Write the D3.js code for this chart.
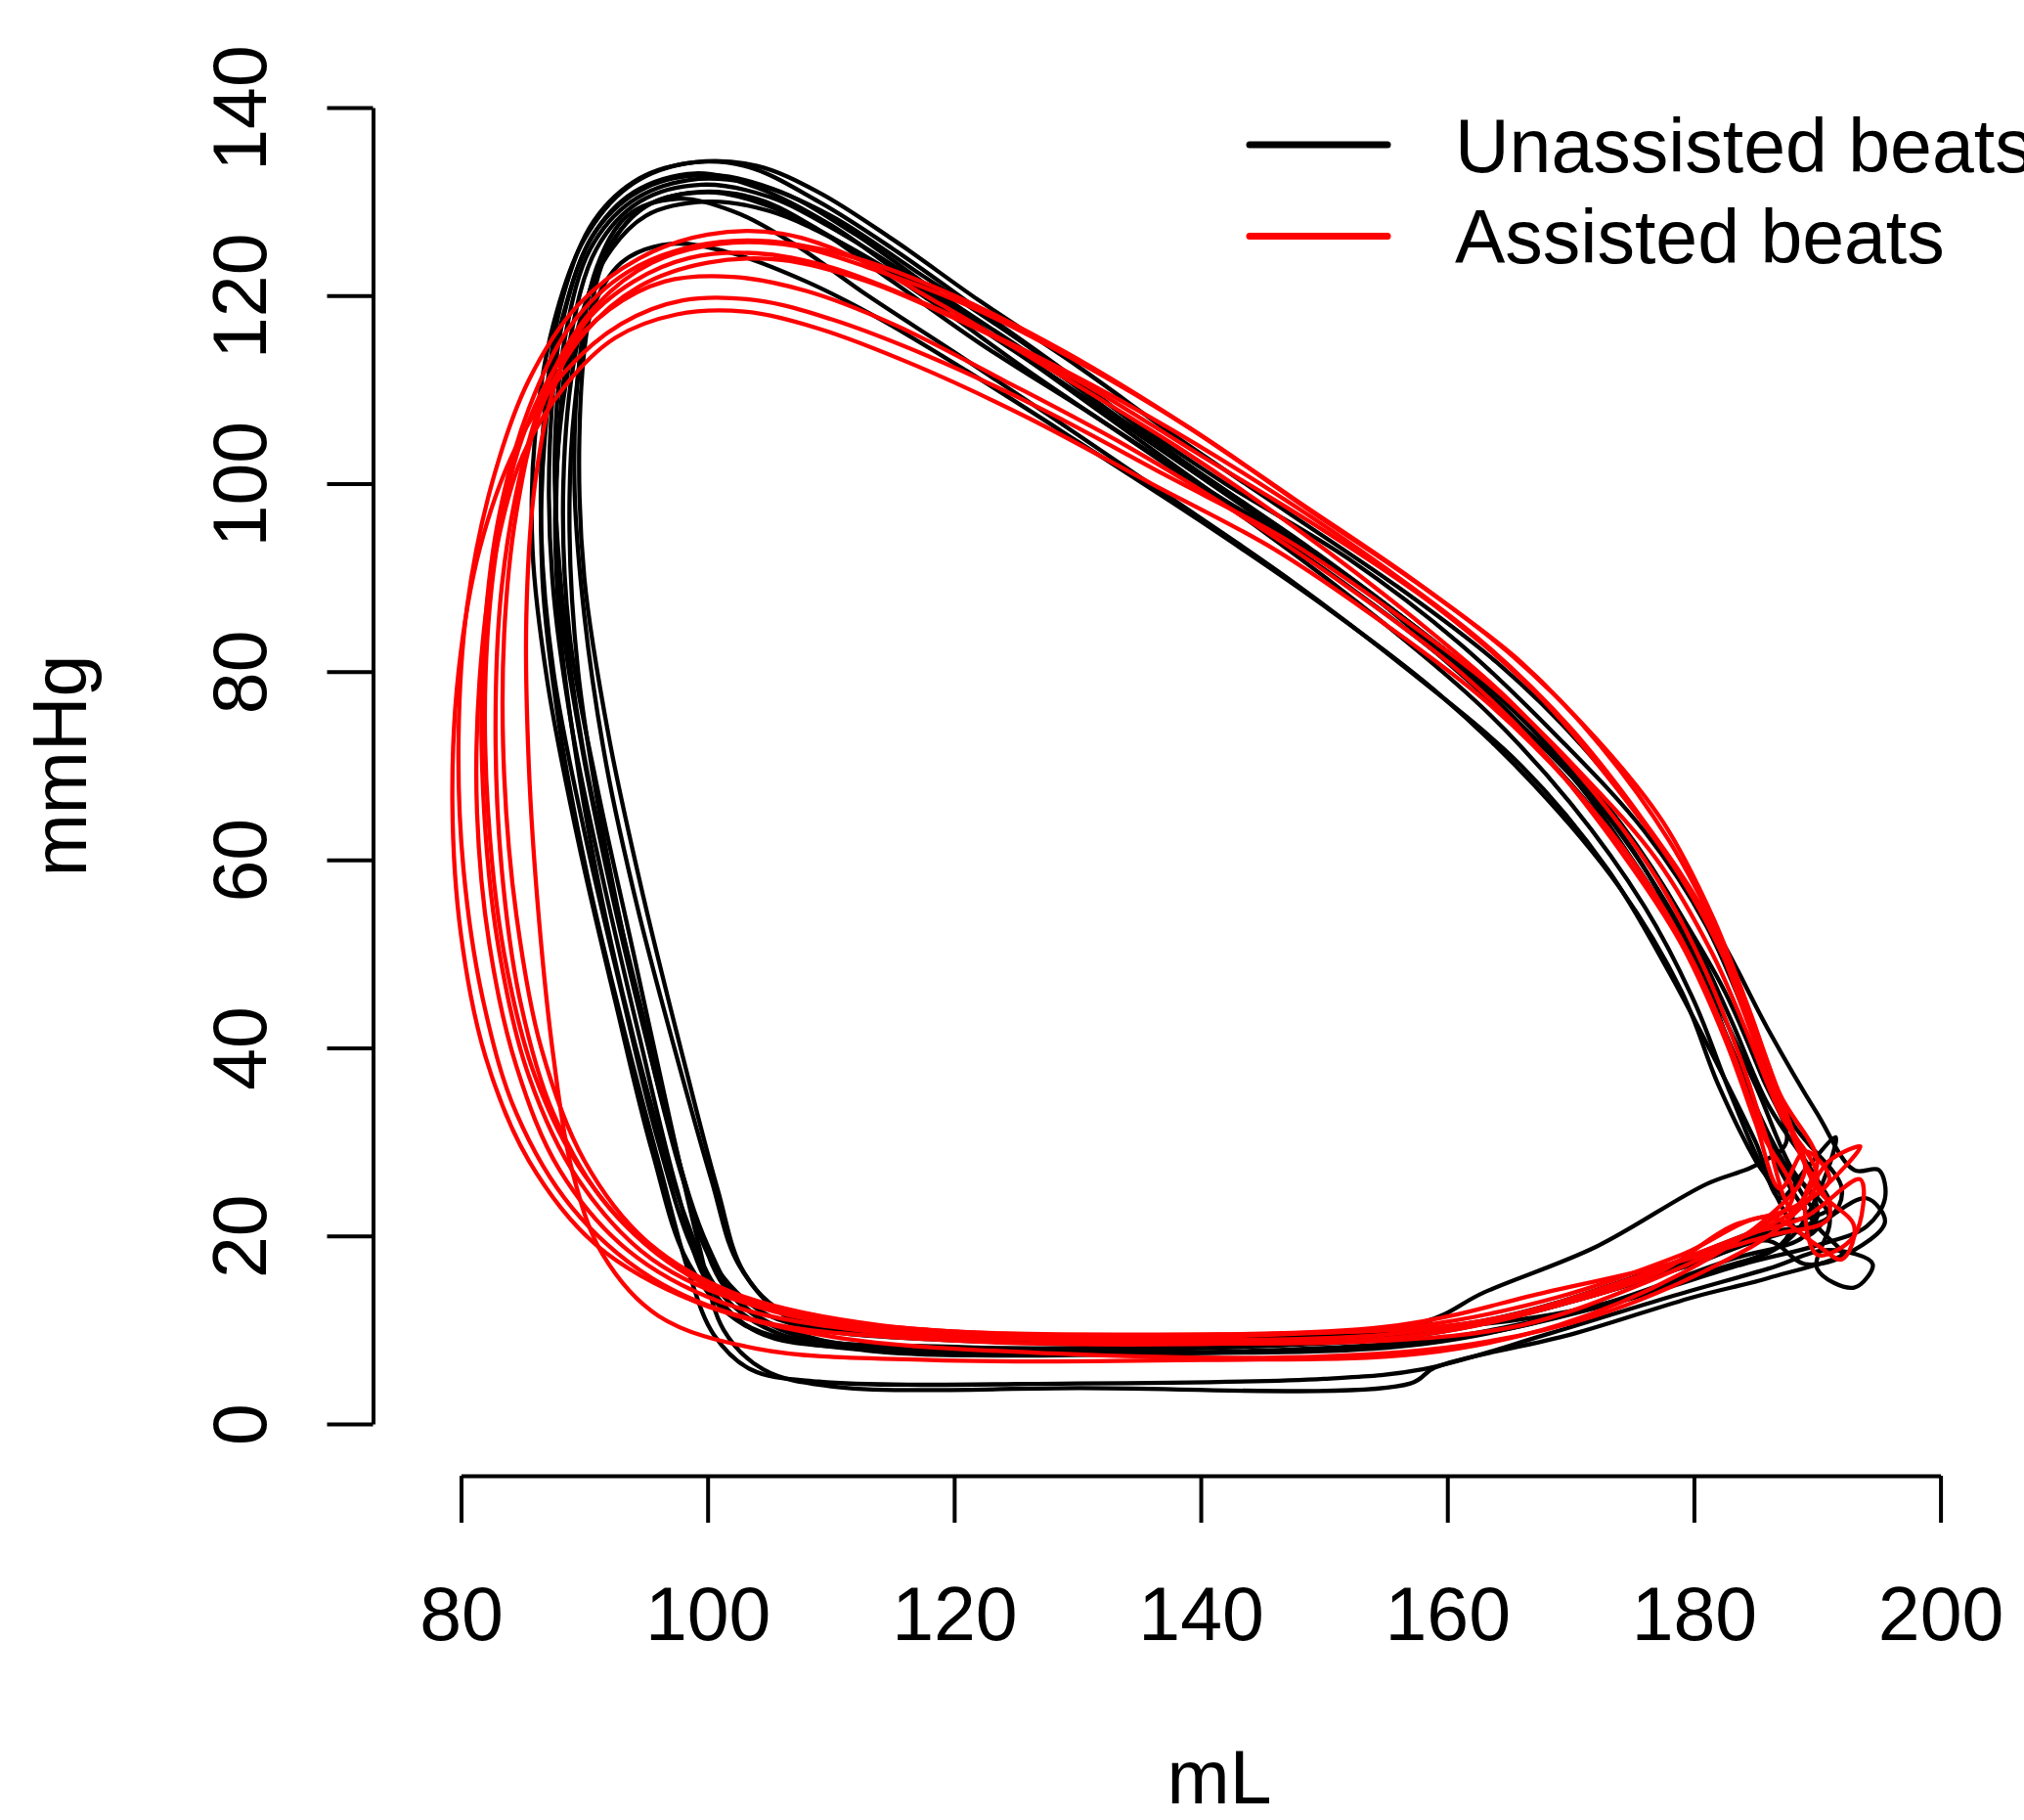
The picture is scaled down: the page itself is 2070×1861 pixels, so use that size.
<!DOCTYPE html>
<html>
<head>
<meta charset="utf-8">
<script src="https://cdn.jsdelivr.net/npm/d3@7"></script>
<style>
  html, body { margin: 0; padding: 0; background: #fff; }
  svg { display: block; }
  text { font-family: "Liberation Sans", Arial, sans-serif; fill: #000; }
</style>
</head>
<body>
<svg id="chart" width="2070" height="1861"></svg>
<script>
// ---------- data (volume mL, pressure mmHg) ----------
const xTicks = [80, 100, 120, 140, 160, 180, 200];
const yTicks = [0, 20, 40, 60, 80, 100, 120, 140];
const xLabel = "mL";
const yLabel = "mmHg";
const legendLabels = ["Unassisted beats", "Assisted beats"];
const seriesColors = ["#000000", "#ff0000"];

// Unassisted beats (black)
const u1 = [[190,23],[186,30],[183,40],[179,52],[174,63],[167,73],[159,83],[149,93],[139,102],[130,111],[122,118.5],[115,125],[109,130],[103,133.8],[98,134],[93.5,131.5],[90,126],[87.5,117],[86,105],[85.8,93],[87,79],[89.5,62],[92.5,45],[95.5,29],[98.5,17],[103,10.5],[113,7.8],[135,7.5],[158,8.5],[172,12.5],[183,17.5],[189,20]];
const u2 = [[187.5,30],[185.5,37],[182.5,46],[179,54],[175,62],[169,71],[162,80],[153,89],[143,98],[133,107],[124,115],[117,121.5],[111,126.5],[105,130.5],[99.5,131.8],[94.5,130],[91,125],[88.8,115],[87.8,102],[88,88],[89.8,72],[92.3,56],[95.2,40],[98,26],[100.5,17],[105,11.5],[115,9.5],[140,9.2],[158,10.8],[163,14],[172,18.8],[181,25.5],[185,27.5]];
const u3 = [[189,20],[186,26],[183,35],[180,45],[176,55],[170,66],[163,76],[155,85],[145,95],[135,104],[126,112],[118,119.5],[111,125.5],[105,129.5],[100,131],[95,129.5],[91.5,124],[89.3,114],[88.3,100],[88.8,84],[91,68],[94,50],[97,32],[99.3,19],[101.3,10],[104.5,5.8],[110,4],[130,3.8],[157,4.3],[159,6],[170,9.5],[180,13.5],[186,15.5],[193,18.5],[195.5,21.5],[194,24],[191,22]];
const u4 = [[192,25],[188,32],[185,41],[181,53],[176,63],[169,73],[161,83],[152,92],[142,100],[133,108],[125,115.5],[117,122.5],[110,128.5],[104,131.8],[98.5,132.3],[93.8,130],[90.5,125],[88.5,116],[87.6,103],[88.2,88],[90,71],[92.8,54],[96,37],[99,22],[101.7,14],[107,9.5],[120,8.2],[145,8.3],[162,10.5],[175,15],[185,20],[191,22]];
const u5 = [[190,26],[186,34],[183,43],[179,54],[174,64],[168,73],[160,82],[151,91],[141,99],[131,107.5],[122,115],[115,121.5],[109,127],[104,130.3],[99,131],[95,129.5],[92,125],[90.3,117],[89.6,105],[90,90],[92,73],[94.8,56],[98,39],[100.8,25],[103,16],[107,11],[118,9],[145,9.2],[163,11],[176,16],[186,21],[191,23]];
const u6 = [[188,22],[185,28],[182,36],[179,46],[174,57],[167,68],[159,78],[150,87],[140,96],[130,104.5],[121,112],[114,117.5],[108,121.5],[102,124.5],[97,125.5],[93,123.5],[90.5,118],[89.2,108],[88.8,95],[89.5,80],[91.5,63],[94,47],[97,31],[100,19],[103,12.5],[109,9],[125,7.8],[145,7.8],[160,9.2],[172,12.5],[182,16.5],[187,19]];
const u7 = [[189,24],[186,31],[183,40],[180,50],[175,61],[169,71],[161,81],[152,90],[142,99],[133,107],[125,114],[118,120],[111,125.5],[105,129],[100,130],[95,128.5],[91.5,123.5],[89,114],[87.7,100],[88,85],[89.7,68],[92.2,51],[95.2,35],[98.2,22],[101,14],[106,9.5],[118,8.2],[142,8.5],[160,10],[174,14.5],[184,19],[190,22]];
const u8 = [[191,22],[188,27],[185,36],[181,47],[176,58],[170,69],[162,79],[153,89],[144,97.5],[135,105.5],[127,113],[119,120],[112,126.5],[106,131],[100.5,132.8],[95,131.5],[91,127],[88.3,118],[86.8,105],[86.6,90],[88,74],[90.3,58],[93.2,42],[96.2,27],[98.5,16],[100.5,9.5],[103.5,5.8],[109,4.5],[130,4.3],[150,4.8],[158,5.8],[168,9.5],[178,13.5],[186,16.5],[191,18.5],[194.5,17],[193,14.5],[190,16.5]];
const u9 = [[193,27],[190,33],[186,42],[182,52],[177,62],[171,72],[164,81],[156,89],[147,97],[138,105],[130,112.5],[122,119.5],[115,126],[109,131],[104,133.8],[99,134.2],[94.5,132.5],[90.8,128],[88.3,120],[86.8,108],[86.5,95],[87.5,80],[90,63],[93,46],[96,30],[99,18],[102.5,11],[112,8],[138,7.5],[160,9],[174,13],[184,17],[190,19],[194,21],[195.5,24],[195,27]];
const u10 = [[187,24],[185,30],[182,38],[178,48],[173,59],[166,70],[157,80],[147,90],[137,99],[128,107],[120,114],[113,120],[107,125.5],[102,129],[97.5,130.3],[93.5,128.5],[91,123],[89.6,113],[89.2,100],[90,86],[91.8,70],[94.3,55],[97.3,40],[100.3,26],[102.5,17],[106,12],[114,9.6],[135,9],[158,10],[170,12],[181,16],[188,20],[191.5,30.5],[189,27]];
const u11 = [[190,21],[187,27],[184,37],[180,49],[175,60],[168,71],[160,81],[151,90],[141,99],[132,107.5],[124,115],[116,122],[110,127.5],[104,131.5],[99,133],[94,131],[90.5,126],[88.2,117],[87.2,104],[87.4,90],[89,74],[91.5,58],[94.5,41],[97.5,25],[100,15],[104,9.8],[113,8],[138,8],[158,9.5],[170,13],[180,17],[186,19.5],[189,17],[192,18]];
const unassistedBeats = [u1, u2, u3, u4, u5, u6, u7, u8, u9, u10, u11];

// Assisted beats (red)
const a1 = [[188,23],[186,30],[184,38],[181,48],[177,58],[172,67],[165,77],[157,86],[148,95],[138,104],[128,112],[119,119],[112,124],[106,126.6],[100,126.5],[94.5,124],[89.5,119],[85.5,111],[82.5,100],[80.5,87],[79.8,73],[80.2,59],[81.8,45],[84.5,33],[89,23],[95.5,15.5],[104,11],[118,9],[140,8.5],[158,9.5],[170,13],[180,18],[186,21],[190,24.5],[193.5,29.5],[191,28]];
const a2 = [[190,25],[187.5,33],[185,42],[182,52],[178,62],[172.5,72],[166,81],[158,89],[149,97],[139,106],[129,114],[120,120],[112,124],[105,125.8],[99,125.3],[93.5,122.5],[89,117],[85.5,108],[83,96],[81.8,82],[81.8,67],[83,51],[85.5,37],[89.5,26],[95.5,17.5],[104,12.5],[118,10],[140,9.5],[158,10.5],[169,13.5],[179,18],[186,22],[190,19],[192,17.5],[193,21]];
const a3 = [[189,27],[186.5,35],[184,44],[181,54],[176,64],[170,74],[163,83],[155,91],[146,99],[136,107],[126,114],[117,119.5],[110,123],[104,124.5],[98.5,124],[94,121.5],[90,117],[87.5,110],[86,100],[85.3,86],[85.5,70],[86.3,54],[87.5,39],[89,27],[91.5,18],[96,11.5],[104,8],[118,6.8],[140,6.8],[158,7.5],[169,10.5],[179,16],[186,22]];
const a4 = [[191,22],[188.5,29],[186,38],[183,48],[179,58],[173.5,68],[167,78],[159,87],[150,95],[140,103],[130,111],[121,117],[113,121.5],[106,123.8],[100,123.5],[94.5,121],[90,116],[86.5,108],[84.5,97],[83.5,84],[83.5,69],[84.5,54],[86.5,40],[90,28],[95,19.5],[102,14],[114,10.5],[135,9.5],[156,10.5],[168,14],[178,17],[186,20]];
const a5 = [[187,25],[185,32],[182.5,41],[179,51],[174,61],[168,71],[161,80],[153,88],[144,96],[134,104],[124,111],[115,117],[108,120.5],[102,122],[96.5,121.5],[92,118.5],[88,113],[85,105],[83,94],[82,80],[82.2,65],[83.5,50],[86,37],[90,26.5],[96,18],[104,12.5],[116,9.8],[135,9],[155,9.5],[167,12],[177,16],[183,21],[188,23],[191,26],[189,29]];
const a6 = [[190,26],[187,33],[184.5,41],[181.5,50],[177,60],[171,69],[164,78],[156,86],[147,94],[137,101],[127,108],[118,113.5],[110,117.5],[104,119.5],[98,119.5],[93,117],[88.5,112],[84.5,104],[81.5,93],[79.8,80],[79.3,66],[80,52],[82,39],[85.5,28],[91,19],[99,13],[110,9.3],[128,7.5],[150,7.2],[162,8.5],[172,11.5],[182,17],[187,21]];
const a7 = [[188,24],[185.5,31],[183,40],[180,49],[175.5,59],[170,68],[163,77],[155,85],[146,93],[136,100],[126,107],[117,112.5],[109,116.5],[103,118.3],[97.5,118],[92.5,115.5],[88.5,110.5],[85,103],[82.7,92],[81.5,79],[81.3,65],[82.3,51],[84.5,38],[88,27],[93.5,18.5],[101,13],[112,10],[132,8.8],[154,8.8],[166,10.5],[176,15],[184,20]];
const a8 = [[190,28],[187,35],[184.5,44],[181.5,54],[177.5,64],[172,73],[165,82],[157,90],[148,98],[139,106],[130,113],[121,119],[113,123],[107,125.3],[101,125.5],[95.5,123.5],[91,119],[87.5,112],[85,102],[83.3,89],[82.8,74],[83.3,59],[84.8,45],[87.5,33],[92,23],[99,15.5],[109,11.3],[126,9.3],[148,9.6],[163,11],[175,15.5],[184,20],[189,22],[193.5,26],[193,20],[190,18],[189,24]];
const assistedBeats = [a1, a2, a3, a4, a5, a6, a7, a8];

// ---------- drawing ----------
const svg = d3.select("#chart");
const x = d3.scaleLinear().domain([80, 200]).range([471.5, 1984.6]);
const y = d3.scaleLinear().domain([0, 140]).range([1456, 110]);

const line = d3.line()
  .x(d => x(d[0]))
  .y(d => y(d[1]))
  .curve(d3.curveCatmullRomClosed.alpha(0.5));

const groups = [
  { beats: unassistedBeats, color: seriesColors[0] },
  { beats: assistedBeats, color: seriesColors[1] }
];
groups.forEach(g => {
  svg.append("g")
    .selectAll("path")
    .data(g.beats)
    .join("path")
    .attr("d", line)
    .attr("fill", "none")
    .attr("stroke", g.color)
    .attr("stroke-width", 4.3)
    .attr("stroke-linejoin", "round");
});

// Y axis
const yAxis = svg.append("g")
  .attr("transform", `translate(${381.5},0)`)
  .call(d3.axisLeft(y).tickValues(yTicks).tickSize(47).tickSizeOuter(0).tickFormat(d3.format("d")));
yAxis.select(".domain").attr("stroke-width", 4);
yAxis.selectAll(".tick line").attr("stroke-width", 4);
yAxis.selectAll(".tick text")
  .attr("x", 0).attr("y", -110).attr("dy", 0)
  .attr("transform", "rotate(-90)")
  .attr("text-anchor", "middle")
  .style("font-size", "77px")
  .style("font-family", "'Liberation Sans', Arial, sans-serif");

// X axis
const xAxis = svg.append("g")
  .attr("transform", `translate(0,${1509})`)
  .call(d3.axisBottom(x).tickValues(xTicks).tickSize(48).tickSizeOuter(0).tickFormat(d3.format("d")));
xAxis.select(".domain").attr("stroke-width", 4);
xAxis.selectAll(".tick line").attr("stroke-width", 4);
xAxis.selectAll(".tick text")
  .attr("y", 168).attr("dy", 0)
  .style("font-size", "77px")
  .style("font-family", "'Liberation Sans', Arial, sans-serif");

// Axis titles
svg.append("text")
  .attr("x", 1247).attr("y", 1844)
  .attr("text-anchor", "middle")
  .style("font-size", "77px")
  .text(xLabel);
svg.append("text")
  .attr("transform", `translate(88,783) rotate(-90)`)
  .attr("text-anchor", "middle")
  .style("font-size", "77px")
  .text(yLabel);

// Legend
const legend = svg.append("g");
legendLabels.forEach((lab, i) => {
  const ly = 148 + i * 93.6;
  legend.append("line")
    .attr("x1", 1278).attr("x2", 1419)
    .attr("y1", ly).attr("y2", ly)
    .attr("stroke", seriesColors[i])
    .attr("stroke-width", 7)
    .attr("stroke-linecap", "round");
  legend.append("text")
    .attr("x", 1488).attr("y", ly + 27.5)
    .style("font-size", "77px")
    .text(lab);
});
</script>
</body>
</html>
